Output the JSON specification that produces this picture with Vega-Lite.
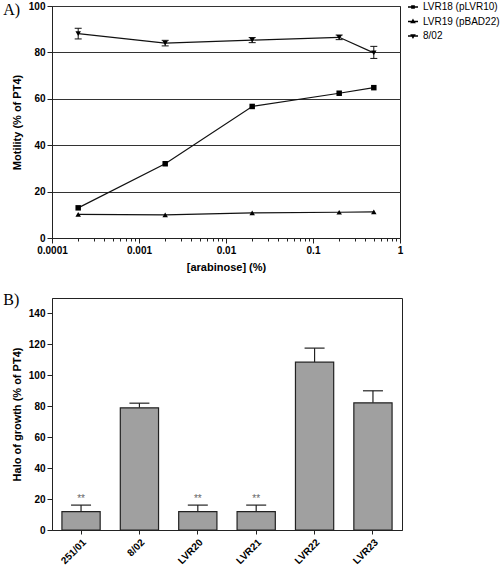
{
  "$schema": "https://vega.github.io/schema/vega-lite/v6.json",
  "padding": {"left": 2, "top": 0, "right": 0, "bottom": 0},
  "config": {
    "font": "Liberation Sans",
    "view": {"stroke": "#222", "strokeWidth": 1},
    "axis": {
      "domainColor": "#222", "tickColor": "#222", "labelColor": "#000",
      "labelFont": "Liberation Sans", "labelFontSize": 10, "labelFontWeight": "bold",
      "titleFont": "Liberation Sans", "titleFontSize": 11, "titleFontWeight": "bold", "titleColor": "#000",
      "grid": false, "tickSize": 5, "labelPadding": 2, "labelOverlap": false
    },
    "title": {"font": "Liberation Serif", "fontSize": 16, "fontWeight": "normal", "anchor": "start", "frame": "bounds", "color": "#000"},
    "legend": {"labelFont": "Liberation Sans", "labelFontSize": 10, "labelColor": "#000", "symbolSize": 100, "rowPadding": 3.5, "padding": 0, "offset": 7},
    "concat": {"spacing": 18}
  },
  "resolve": {"scale": {"shape": "independent"}, "legend": {"shape": "independent"}},
  "vconcat": [
    {
      "title": {"text": "A)", "dy": 21, "dx": -8},
      "width": 348,
      "height": 232,
      "data": {"values": [
        {"conc": 0.0002, "series": "LVR18 (pLVR10)", "mean": 13.0},
        {"conc": 0.002, "series": "LVR18 (pLVR10)", "mean": 32.0},
        {"conc": 0.02, "series": "LVR18 (pLVR10)", "mean": 56.7},
        {"conc": 0.2, "series": "LVR18 (pLVR10)", "mean": 62.4},
        {"conc": 0.5, "series": "LVR18 (pLVR10)", "mean": 64.8},
        {"conc": 0.0002, "series": "LVR19 (pBAD22)", "mean": 10.2},
        {"conc": 0.002, "series": "LVR19 (pBAD22)", "mean": 10.0},
        {"conc": 0.02, "series": "LVR19 (pBAD22)", "mean": 10.8},
        {"conc": 0.2, "series": "LVR19 (pBAD22)", "mean": 11.1},
        {"conc": 0.5, "series": "LVR19 (pBAD22)", "mean": 11.3},
        {"conc": 0.0002, "series": "8/02", "mean": 88.1, "lo": 85.8, "hi": 90.4},
        {"conc": 0.002, "series": "8/02", "mean": 84.0, "lo": 82.8, "hi": 85.2},
        {"conc": 0.02, "series": "8/02", "mean": 85.3, "lo": 84.2, "hi": 86.4},
        {"conc": 0.2, "series": "8/02", "mean": 86.5, "lo": 85.5, "hi": 87.5},
        {"conc": 0.5, "series": "8/02", "mean": 79.8, "lo": 77.4, "hi": 82.6}
      ]},
      "encoding": {
        "x": {
          "field": "conc", "type": "quantitative",
          "scale": {"type": "log", "domain": [0.0001, 1], "nice": false},
          "axis": {
            "title": "[arabinose] (%)",
            "values": [0.0001, 0.0002, 0.0003, 0.0004, 0.0005, 0.0006, 0.0007, 0.0008, 0.0009,
                       0.001, 0.002, 0.003, 0.004, 0.005, 0.006, 0.007, 0.008, 0.009,
                       0.01, 0.02, 0.03, 0.04, 0.05, 0.06, 0.07, 0.08, 0.09,
                       0.1, 0.2, 0.3, 0.4, 0.5, 0.6, 0.7, 0.8, 0.9, 1],
            "labelExpr": "abs(log(datum.value)/LN10 - round(log(datum.value)/LN10)) < 0.001 ? format(datum.value, '~g') : ''",
            "tickSize": {"condition": {"test": "abs(log(datum.value)/LN10 - round(log(datum.value)/LN10)) < 0.001", "value": 5}, "value": 3},
            "labelFlush": false,
            "titlePadding": 6
          }
        },
        "y": {
          "field": "mean", "type": "quantitative",
          "scale": {"domain": [0, 100], "nice": false},
          "axis": {"title": "Motility (% of PT4)", "values": [0, 20, 40, 60, 80, 100], "grid": true, "gridColor": "#333", "gridWidth": 1, "titlePadding": 6}
        }
      },
      "layer": [
        {"mark": {"type": "line", "color": "#111", "strokeWidth": 1.2}, "encoding": {"detail": {"field": "series"}}},
        {"transform": [{"filter": "isValid(datum.lo)"}], "mark": {"type": "rule", "color": "#111", "strokeWidth": 1}, "encoding": {"y": {"field": "lo", "type": "quantitative"}, "y2": {"field": "hi"}}},
        {"transform": [{"filter": "isValid(datum.lo)"}], "mark": {"type": "point", "shape": "stroke", "size": 49, "color": "#111", "strokeWidth": 1, "opacity": 1}, "encoding": {"y": {"field": "lo", "type": "quantitative"}}},
        {"transform": [{"filter": "isValid(datum.hi)"}], "mark": {"type": "point", "shape": "stroke", "size": 49, "color": "#111", "strokeWidth": 1, "opacity": 1}, "encoding": {"y": {"field": "hi", "type": "quantitative"}}},
        {
          "mark": {"type": "point", "filled": true, "color": "#000", "size": 30, "opacity": 1},
          "encoding": {"shape": {"field": "series", "type": "nominal",
            "scale": {"domain": ["LVR18 (pLVR10)", "LVR19 (pBAD22)", "8/02"], "range": ["square", "triangle-up", "triangle-down"]},
            "legend": null}}
        },
        {
          "transform": [{"filter": "false"}],
          "mark": {"type": "point", "filled": true, "fill": "#000", "stroke": "#000", "strokeWidth": 1, "opacity": 1},
          "encoding": {"shape": {"field": "series", "type": "nominal",
            "scale": {"domain": ["LVR18 (pLVR10)", "LVR19 (pBAD22)", "8/02"],
                      "range": ["M-1,0H1M-0.22,-0.22H0.22V0.22H-0.22Z", "M-1,0H1M0,-0.3L0.3,0.22H-0.3Z", "M-1,0H1M0,0.3L0.3,-0.22H-0.3Z"]},
            "legend": {"title": null, "orient": "none", "legendX": 355, "legendY": -5}}}
        }
      ],
      "resolve": {"scale": {"shape": "independent"}, "legend": {"shape": "independent"}}
    },
    {
      "title": {"text": "B)", "dy": 14, "dx": -8},
      "width": 350,
      "height": 232,
      "data": {"values": [
        {"strain": "251/01", "mean": 11.9, "hi": 16.1, "sig": "**"},
        {"strain": "8/02", "mean": 79.0, "hi": 82.0, "sig": ""},
        {"strain": "LVR20", "mean": 11.9, "hi": 16.1, "sig": "**"},
        {"strain": "LVR21", "mean": 11.9, "hi": 16.1, "sig": "**"},
        {"strain": "LVR22", "mean": 108.5, "hi": 117.6, "sig": ""},
        {"strain": "LVR23", "mean": 82.2, "hi": 90.0, "sig": ""}
      ]},
      "encoding": {
        "x": {
          "field": "strain", "type": "nominal", "sort": null,
          "scale": {"paddingInner": 0.345, "paddingOuter": 0.17},
          "axis": {"title": null, "labelAngle": -45, "tickSize": 4, "labelPadding": 3}
        },
        "y": {"field": "mean", "type": "quantitative", "scale": {"domain": [0, 150], "nice": false},
          "axis": {"title": "Halo of growth (% of PT4)", "values": [0, 20, 40, 60, 80, 100, 120, 140], "titlePadding": 6, "labelOverlap": false}}
      },
      "layer": [
        {"mark": {"type": "rule", "color": "#222", "strokeWidth": 1.2}, "encoding": {"y2": {"field": "hi"}}},
        {"mark": {"type": "bar", "fill": "#a0a0a0", "stroke": "#222", "strokeWidth": 1.2}},
        {"mark": {"type": "point", "shape": "stroke", "size": 400, "color": "#222", "strokeWidth": 1.2, "opacity": 1},
         "encoding": {"y": {"field": "hi", "type": "quantitative", "axis": {"title": "Halo of growth (% of PT4)", "values": [0, 20, 40, 60, 80, 100, 120, 140], "titlePadding": 6, "labelOverlap": false}}}},
        {"mark": {"type": "text", "baseline": "bottom", "dy": -1, "color": "#666", "fontSize": 10},
         "encoding": {"y": {"field": "hi", "type": "quantitative", "axis": {"title": "Halo of growth (% of PT4)", "values": [0, 20, 40, 60, 80, 100, 120, 140], "titlePadding": 6, "labelOverlap": false}}, "text": {"field": "sig"}}}
      ]
    }
  ]
}
